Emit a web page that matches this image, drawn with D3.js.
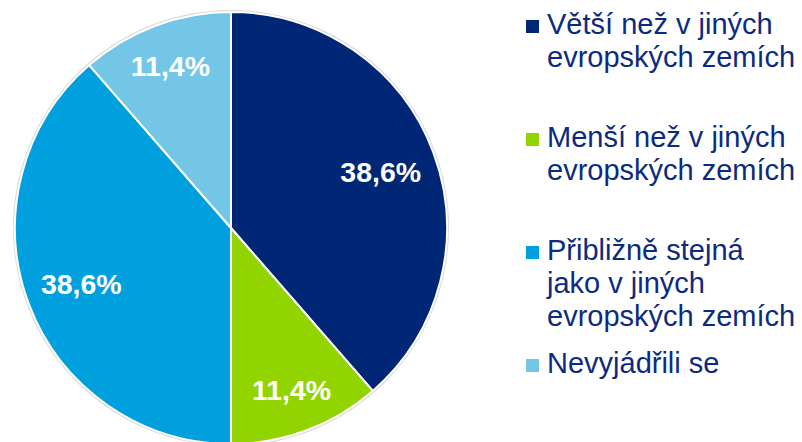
<!DOCTYPE html>
<html>
<head>
<meta charset="utf-8">
<script src="https://cdn.jsdelivr.net/npm/d3@7"></script>
<style>
  body { margin: 0; background: #fff; }
  svg { display: block; font-family: "Liberation Sans", Arial, sans-serif; }
</style>
</head>
<body>
<div id="chart"></div>
<script>
// chart data
const categories = ["Větší než v jiných evropských zemích", "Menší než v jiných evropských zemích",
                    "Přibližně stejná jako v jiných evropských zemích", "Nevyjádřili se"];
const values = [38.6, 11.4, 38.6, 11.4];
const valueLabels = ["38,6%", "11,4%", "38,6%", "11,4%"];
const legendLines = [
  ["Větší než v jiných", "evropských zemích"],
  ["Menší než v jiných", "evropských zemích"],
  ["Přibližně stejná", "jako v jiných", "evropských zemích"],
  ["Nevyjádřili se"]
];
const colors = ["#002776", "#92d400", "#00a0df", "#74c6e6"];

const width = 802;
const height = 442;
const cx = 231, cy = 228, radius = 216;

const svg = d3.select("#chart").append("svg")
    .attr("width", width)
    .attr("height", height);

const pie = d3.pie().sort(null).value(d => d);
const arc = d3.arc().innerRadius(0).outerRadius(radius);
const arcs = pie(values);

const g = svg.append("g").attr("transform", `translate(${cx},${cy})`);

// faint outer rim
g.append("circle")
    .attr("r", radius + 1)
    .attr("fill", "none")
    .attr("stroke", "#d9d9d9")
    .attr("stroke-width", 2);

g.selectAll("path.slice")
    .data(arcs)
    .enter().append("path")
    .attr("class", "slice")
    .attr("d", arc)
    .attr("fill", (d, i) => colors[i])
    .attr("stroke", "#fff")
    .attr("stroke-width", 2)
    .attr("stroke-linejoin", "round");

// labels - small slices sit a bit further out
g.selectAll("text.val")
    .data(arcs)
    .enter().append("text")
    .attr("class", "val")
    .attr("transform", d => {
      const r = d.value < 20 ? radius * 0.8 : radius * 0.74;
      const a = (d.startAngle + d.endAngle) / 2;
      return `translate(${r * Math.sin(a)},${-r * Math.cos(a) + 10})`;
    })
    .attr("text-anchor", "middle")
    .attr("fill", "#fff")
    .attr("font-weight", "bold")
    .attr("font-size", "28.5px")
    .text((d, i) => valueLabels[i]);

// legend
const legendX = 526;
const lineH = 33;
const itemTop = [34, 147, 260, 373]; // baseline of first line per item

const legend = svg.append("g");
legendLines.forEach((lines, i) => {
  const item = legend.append("g").attr("transform", `translate(${legendX},${itemTop[i]})`);
  item.append("rect")
      .attr("x", 0)
      .attr("y", -14)
      .attr("width", 13)
      .attr("height", 13)
      .attr("fill", colors[i]);
  item.selectAll("text")
      .data(lines)
      .enter().append("text")
      .attr("x", 21)
      .attr("y", (d, j) => j * lineH)
      .attr("fill", "#0c2b80")
      .attr("font-size", "29px")
      .text(d => d);
});
</script>
</body>
</html>
